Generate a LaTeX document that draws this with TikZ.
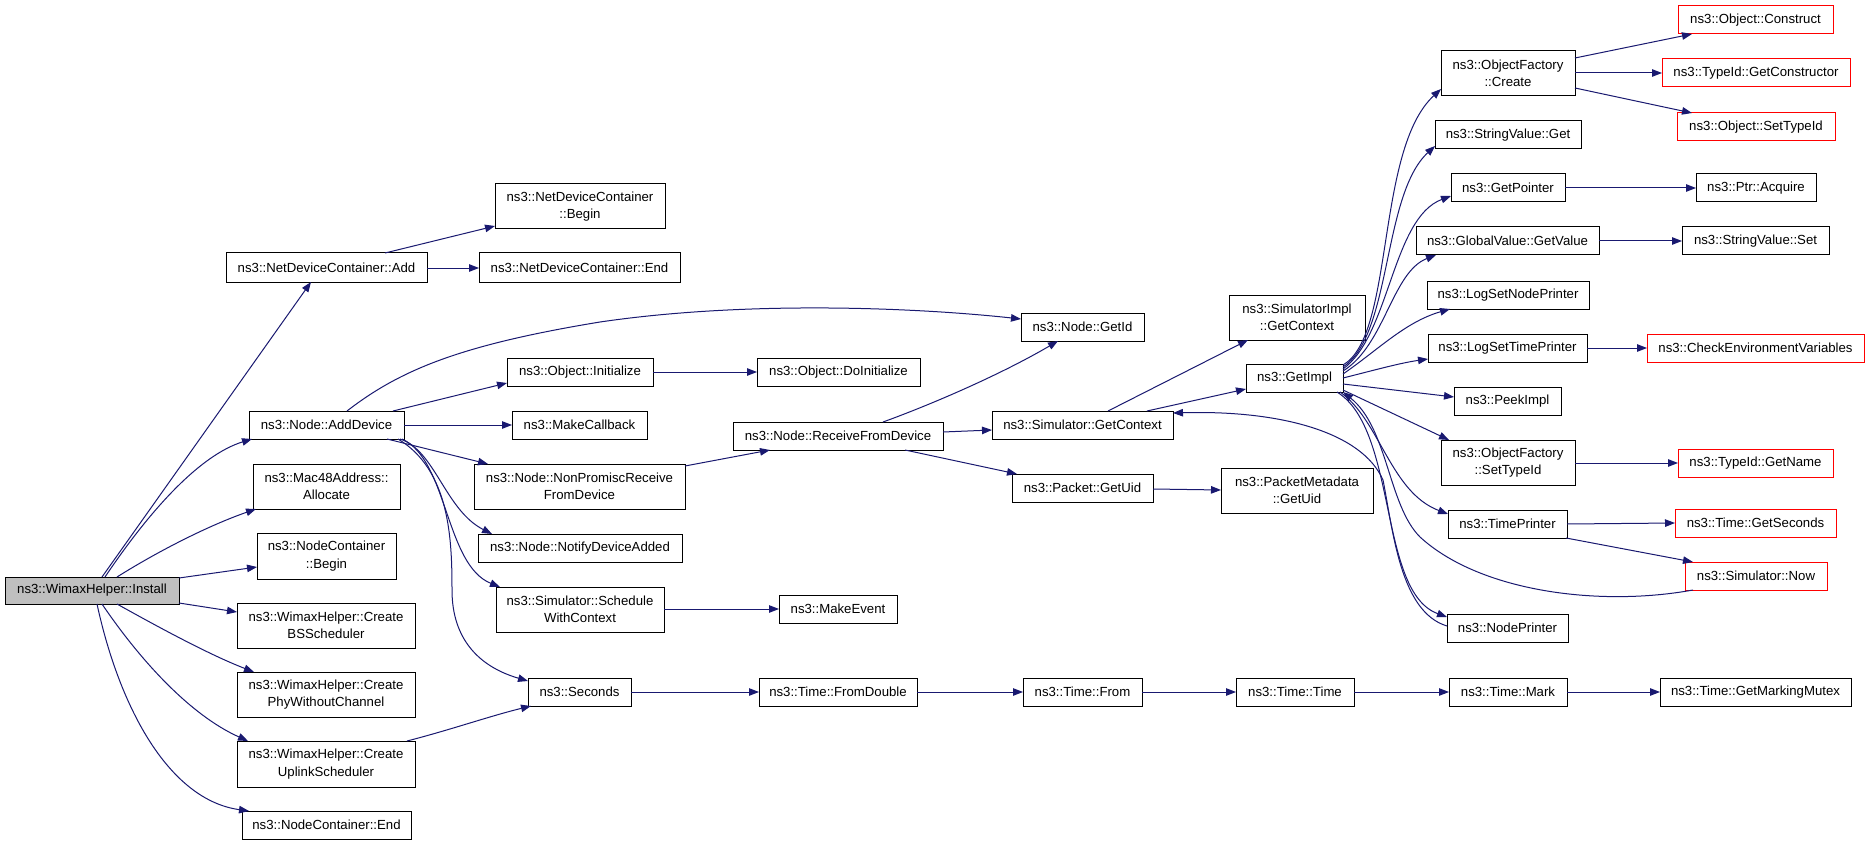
\documentclass[tikz,border=0pt]{standalone}
\usepackage{fontspec}
\setmainfont{Liberation Sans}
\usetikzlibrary{arrows.meta,calc}
\definecolor{edgeblue}{RGB}{25,25,112}
\definecolor{rootgrey}{RGB}{191,191,191}
\definecolor{nodered}{RGB}{255,0,0}
\newcommand\nodefont{\fontsize{13.2}{17.3}\selectfont}
\tikzset{
 box/.style={draw=black, line width=1pt, fill=white, inner sep=0pt, outer sep=0pt, align=center, font=\nodefont},
 redbox/.style={box, draw=nodered},
 rootbox/.style={box, fill=rootgrey},
 call/.style={draw=edgeblue, line width=1pt, -{Triangle[length=10pt,width=7.5pt]}},
}
\newcommand\mkbox[7]{\node[#1, minimum width={(#5-#3)*1pt}, minimum height={(#6-#4)*1pt}] (#2) at ({(#3+#5)/2},{(#4+#6)/2}) {#7};}
\begin{document}
\begin{tikzpicture}[x=1pt,y=-1pt]
\fill[white] (0,0) rectangle (1869,845);
\useasboundingbox (0,0) rectangle (1869,845);
% nodes
\mkbox{rootbox}{install}{5}{577}{179}{604}{ns3::WimaxHelper::Install}
\mkbox{box}{ndcadd}{226}{253}{427}{282}{ns3::NetDeviceContainer::Add}
\mkbox{box}{adddev}{249}{411}{404}{439}{ns3::Node::AddDevice}
\mkbox{box}{alloc}{253}{464}{400}{509}{ns3::Mac48Address::\\Allocate}
\mkbox{box}{ncbegin}{257}{533}{396}{579}{ns3::NodeContainer\\::Begin}
\mkbox{box}{bssched}{237}{603}{415}{648}{ns3::WimaxHelper::Create\\BSScheduler}
\mkbox{box}{phy}{237}{672}{415}{717}{ns3::WimaxHelper::Create\\PhyWithoutChannel}
\mkbox{box}{uplink}{237}{741}{415}{787}{ns3::WimaxHelper::Create\\UplinkScheduler}
\mkbox{box}{ncend}{242}{811}{411}{839}{ns3::NodeContainer::End}
\mkbox{box}{ndcbegin}{495}{184}{665}{229}{ns3::NetDeviceContainer\\::Begin}
\mkbox{box}{ndcend}{479}{253}{680}{282}{ns3::NetDeviceContainer::End}
\mkbox{box}{objinit}{507}{358}{653}{386}{ns3::Object::Initialize}
\mkbox{box}{makecb}{512}{411}{647}{439}{ns3::MakeCallback}
\mkbox{box}{nonpromisc}{474}{464}{685}{509}{ns3::Node::NonPromiscReceive\\FromDevice}
\mkbox{box}{notify}{478}{534}{682}{562}{ns3::Node::NotifyDeviceAdded}
\mkbox{box}{sched}{496}{587}{664}{632}{ns3::Simulator::Schedule\\WithContext}
\mkbox{box}{seconds}{528}{678}{631}{706}{ns3::Seconds}
\mkbox{box}{doinit}{757}{358}{920}{386}{ns3::Object::DoInitialize}
\mkbox{box}{recv}{733}{422}{943}{450}{ns3::Node::ReceiveFromDevice}
\mkbox{box}{makeevent}{779}{595}{897}{623}{ns3::MakeEvent}
\mkbox{box}{fromdouble}{759}{678}{917}{706}{ns3::Time::FromDouble}
\mkbox{box}{getid}{1021}{313}{1144}{341}{ns3::Node::GetId}
\mkbox{box}{simctx}{992}{411}{1173}{439}{ns3::Simulator::GetContext}
\mkbox{box}{pktuid}{1012}{474}{1153}{502}{ns3::Packet::GetUid}
\mkbox{box}{timefrom}{1023}{678}{1142}{706}{ns3::Time::From}
\mkbox{box}{simimplctx}{1229}{295}{1365}{340}{ns3::SimulatorImpl\\::GetContext}
\mkbox{box}{getimpl}{1246}{364}{1343}{392}{ns3::GetImpl}
\mkbox{box}{pmuid}{1221}{468}{1373}{513}{ns3::PacketMetadata\\::GetUid}
\mkbox{box}{timetime}{1236}{678}{1354}{706}{ns3::Time::Time}
\mkbox{box}{ofcreate}{1441}{51}{1575}{96}{ns3::ObjectFactory\\::Create}
\mkbox{box}{svget}{1435}{121}{1581}{149}{ns3::StringValue::Get}
\mkbox{box}{getptr}{1451}{174}{1565}{202}{ns3::GetPointer}
\mkbox{box}{gvget}{1416}{227}{1599}{255}{ns3::GlobalValue::GetValue}
\mkbox{box}{lognode}{1427}{281}{1589}{309}{ns3::LogSetNodePrinter}
\mkbox{box}{logtime}{1428}{334}{1587}{362}{ns3::LogSetTimePrinter}
\mkbox{box}{peek}{1454}{387}{1561}{415}{ns3::PeekImpl}
\mkbox{box}{ofsettid}{1441}{440}{1575}{485}{ns3::ObjectFactory\\::SetTypeId}
\mkbox{box}{timeprinter}{1448}{510}{1567}{538}{ns3::TimePrinter}
\mkbox{box}{nodeprinter}{1447}{614}{1568}{642}{ns3::NodePrinter}
\mkbox{box}{timemark}{1449}{678}{1567}{706}{ns3::Time::Mark}
\mkbox{redbox}{construct}{1678}{6}{1833}{34}{ns3::Object::Construct}
\mkbox{redbox}{getctor}{1662}{59}{1850}{87}{ns3::TypeId::GetConstructor}
\mkbox{redbox}{objsettid}{1677}{113}{1835}{141}{ns3::Object::SetTypeId}
\mkbox{box}{acquire}{1696}{174}{1816}{202}{ns3::Ptr::Acquire}
\mkbox{box}{svset}{1682}{227}{1829}{255}{ns3::StringValue::Set}
\mkbox{redbox}{checkenv}{1647}{334}{1864}{362}{ns3::CheckEnvironmentVariables}
\mkbox{redbox}{getname}{1678}{449}{1833}{477}{ns3::TypeId::GetName}
\mkbox{redbox}{getsec}{1675}{509}{1836}{537}{ns3::Time::GetSeconds}
\mkbox{redbox}{now}{1685}{562}{1827}{590}{ns3::Simulator::Now}
\mkbox{box}{mutex}{1660}{678}{1851}{706}{ns3::Time::GetMarkingMutex}
% edges from Install
\draw[call] ($(install.north west)!(102,0)!(install.north east)$) -- ($(ndcadd.south west)!(311,0)!(ndcadd.south east)$);
\draw[call] ($(install.north west)!(105,0)!(install.north east)$) .. controls (150,510) and (200,455) .. ($(adddev.south west)!(252,0)!(adddev.south east)$);
\draw[call] ($(install.north west)!(117,0)!(install.north east)$) .. controls (160,550) and (210,525) .. ($(alloc.south west)!(256,0)!(alloc.south east)$);
\draw[call] ($(install.north east)!(0,578)!(install.south east)$) -- ($(ncbegin.north west)!(0,567)!(ncbegin.south west)$);
\draw[call] ($(install.north east)!(0,603)!(install.south east)$) -- ($(bssched.north west)!(0,612)!(bssched.south west)$);
\draw[call] ($(install.south west)!(117,0)!(install.south east)$) .. controls (160,628) and (210,655) .. ($(phy.north west)!(254,0)!(phy.north east)$);
\draw[call] ($(install.south west)!(102,0)!(install.south east)$) .. controls (140,660) and (190,715) .. ($(uplink.north west)!(248,0)!(uplink.north east)$);
\draw[call] ($(install.south west)!(97,0)!(install.south east)$) .. controls (120,710) and (170,800) .. ($(ncend.north west)!(249,0)!(ncend.north east)$);
% NetDeviceContainer::Add
\draw[call] ($(ndcadd.north west)!(385,0)!(ndcadd.north east)$) -- ($(ndcbegin.north west)!(0,226)!(ndcbegin.south west)$);
\draw[call] ($(ndcadd.north east)!(0,268)!(ndcadd.south east)$) -- ($(ndcend.north west)!(0,268)!(ndcend.south west)$);
% Node::AddDevice
\draw[call] ($(adddev.north west)!(347,0)!(adddev.north east)$) .. controls (400,370) and (460,345) .. (600,322) .. controls (750,300) and (920,308) .. ($(getid.north west)!(0,319)!(getid.south west)$);
\draw[call] ($(adddev.north west)!(393,0)!(adddev.north east)$) -- ($(objinit.north west)!(0,383)!(objinit.south west)$);
\draw[call] ($(adddev.north east)!(0,425)!(adddev.south east)$) -- ($(makecb.north west)!(0,425)!(makecb.south west)$);
\draw[call] ($(adddev.south west)!(387,0)!(adddev.south east)$) -- ($(nonpromisc.north west)!(488,0)!(nonpromisc.north east)$);
\draw[call] ($(adddev.south west)!(400,0)!(adddev.south east)$) .. controls (435,450) and (445,510) .. ($(notify.north west)!(492,0)!(notify.north east)$);
\draw[call] ($(adddev.south west)!(402,0)!(adddev.south east)$) .. controls (448,460) and (445,565) .. ($(sched.north west)!(500,0)!(sched.north east)$);
\draw[call] ($(adddev.south west)!(398,0)!(adddev.south east)$) .. controls (450,470) and (452,540) .. (452,590) .. controls (452,640) and (480,667) .. ($(seconds.north west)!(0,681)!(seconds.south west)$);
\draw[call] ($(uplink.north west)!(407,0)!(uplink.north east)$) .. controls (450,730) and (490,716) .. ($(seconds.south west)!(531,0)!(seconds.south east)$);
% second column
\draw[call] ($(objinit.north east)!(0,372)!(objinit.south east)$) -- ($(doinit.north west)!(0,372)!(doinit.south west)$);
\draw[call] ($(nonpromisc.north east)!(0,466)!(nonpromisc.south east)$) -- ($(recv.south west)!(770,0)!(recv.south east)$);
\draw[call] ($(sched.north east)!(0,609)!(sched.south east)$) -- ($(makeevent.north west)!(0,609)!(makeevent.south west)$);
\draw[call] ($(seconds.north east)!(0,692)!(seconds.south east)$) -- ($(fromdouble.north west)!(0,692)!(fromdouble.south west)$);
% ReceiveFromDevice
\draw[call] ($(recv.north west)!(883,0)!(recv.north east)$) .. controls (930,405) and (1000,375) .. ($(getid.south west)!(1058,0)!(getid.south east)$);
\draw[call] ($(recv.north east)!(0,432)!(recv.south east)$) -- ($(simctx.north west)!(0,430)!(simctx.south west)$);
\draw[call] ($(recv.south west)!(905,0)!(recv.south east)$) -- ($(pktuid.north west)!(1017,0)!(pktuid.north east)$);
% time chain
\draw[call] ($(fromdouble.north east)!(0,692)!(fromdouble.south east)$) -- ($(timefrom.north west)!(0,692)!(timefrom.south west)$);
\draw[call] ($(timefrom.north east)!(0,692)!(timefrom.south east)$) -- ($(timetime.north west)!(0,692)!(timetime.south west)$);
\draw[call] ($(timetime.north east)!(0,692)!(timetime.south east)$) -- ($(timemark.north west)!(0,692)!(timemark.south west)$);
\draw[call] ($(timemark.north east)!(0,692)!(timemark.south east)$) -- ($(mutex.north west)!(0,692)!(mutex.south west)$);
% packet
\draw[call] ($(pktuid.north east)!(0,489)!(pktuid.south east)$) -- ($(pmuid.north west)!(0,490)!(pmuid.south west)$);
% Simulator::GetContext
\draw[call] ($(simctx.north west)!(1108,0)!(simctx.north east)$) -- ($(simimplctx.south west)!(1248,0)!(simimplctx.south east)$);
\draw[call] ($(simctx.north west)!(1147,0)!(simctx.north east)$) -- ($(getimpl.north west)!(0,389)!(getimpl.south west)$);
% GetImpl fan-out
\draw[call] ($(getimpl.north east)!(0,365)!(getimpl.south east)$) .. controls (1395,335) and (1375,150) .. ($(ofcreate.north west)!(0,89)!(ofcreate.south west)$);
\draw[call] ($(getimpl.north east)!(0,367)!(getimpl.south east)$) .. controls (1392,335) and (1382,195) .. ($(svget.north west)!(0,146)!(svget.south west)$);
\draw[call] ($(getimpl.north east)!(0,369)!(getimpl.south east)$) .. controls (1390,335) and (1392,218) .. ($(getptr.north west)!(0,196)!(getptr.south west)$);
\draw[call] ($(getimpl.north east)!(0,371)!(getimpl.south east)$) .. controls (1385,345) and (1392,272) .. ($(gvget.south west)!(1436,0)!(gvget.south east)$);
\draw[call] ($(getimpl.north east)!(0,374)!(getimpl.south east)$) .. controls (1378,350) and (1405,322) .. ($(lognode.south west)!(1450,0)!(lognode.south east)$);
\draw[call] ($(getimpl.north east)!(0,378)!(getimpl.south east)$) .. controls (1375,370) and (1400,363) .. ($(logtime.north west)!(0,359)!(logtime.south west)$);
\draw[call] ($(getimpl.north east)!(0,384)!(getimpl.south east)$) -- ($(peek.north west)!(0,397)!(peek.south west)$);
\draw[call] ($(getimpl.north east)!(0,390)!(getimpl.south east)$) -- ($(ofsettid.north west)!(1449,0)!(ofsettid.north east)$);
\draw[call] ($(getimpl.south west)!(1340,0)!(getimpl.south east)$) .. controls (1380,420) and (1390,492) .. ($(timeprinter.north west)!(0,514)!(timeprinter.south west)$);
\draw[call] ($(getimpl.south west)!(1337,0)!(getimpl.south east)$) .. controls (1398,430) and (1378,592) .. ($(nodeprinter.north west)!(0,617)!(nodeprinter.south west)$);
% back edges
\draw[call] ($(nodeprinter.north west)!(0,626)!(nodeprinter.south west)$) .. controls (1400,612) and (1393,530) .. (1383,480) .. controls (1362,432) and (1280,410) .. ($(simctx.north east)!(0,413)!(simctx.south east)$);
\draw[call] ($(now.south west)!(1693,0)!(now.south east)$) .. controls (1600,607) and (1480,592) .. (1420,537) .. controls (1388,505) and (1388,428) .. (getimpl.south east);
% right column
\draw[call] ($(ofcreate.north east)!(0,58)!(ofcreate.south east)$) -- ($(construct.south west)!(1692,0)!(construct.south east)$);
\draw[call] ($(ofcreate.north east)!(0,73)!(ofcreate.south east)$) -- ($(getctor.north west)!(0,73)!(getctor.south west)$);
\draw[call] ($(ofcreate.north east)!(0,88)!(ofcreate.south east)$) -- ($(objsettid.north west)!(1692,0)!(objsettid.north east)$);
\draw[call] ($(getptr.north east)!(0,188)!(getptr.south east)$) -- ($(acquire.north west)!(0,188)!(acquire.south west)$);
\draw[call] ($(gvget.north east)!(0,241)!(gvget.south east)$) -- ($(svset.north west)!(0,241)!(svset.south west)$);
\draw[call] ($(logtime.north east)!(0,348)!(logtime.south east)$) -- ($(checkenv.north west)!(0,348)!(checkenv.south west)$);
\draw[call] ($(ofsettid.north east)!(0,463)!(ofsettid.south east)$) -- ($(getname.north west)!(0,463)!(getname.south west)$);
\draw[call] ($(timeprinter.north east)!(0,524)!(timeprinter.south east)$) -- ($(getsec.north west)!(0,523)!(getsec.south west)$);
\draw[call] ($(timeprinter.south west)!(1566,0)!(timeprinter.south east)$) -- ($(now.north west)!(1693,0)!(now.north east)$);
\end{tikzpicture}
\end{document}
